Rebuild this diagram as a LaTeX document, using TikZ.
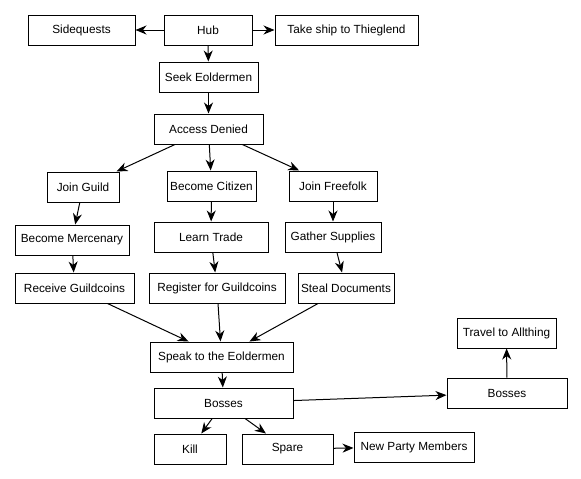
\documentclass[tikz,border=0pt]{standalone}
\usepackage{fontspec}
\setmainfont{Liberation Sans}
\usetikzlibrary{arrows.meta}
\tikzset{
  questbox/.style={draw, line width=1pt, minimum height=30pt, inner sep=2pt, font=\fontsize{11.8}{14}\selectfont},
  questarrow/.style={line width=1pt, -{Stealth[length=11pt,width=9pt,inset=3.5pt]}}
}
\newcommand{\questnode}[5]{\node[questbox, minimum width=#4pt] (#1) at (#2,#3) {#5};}
\newcommand{\questarrow}[2]{\draw[questarrow] (#1) -- (#2);}

\begin{document}
\begin{tikzpicture}[x=1pt,y=-1pt]
\useasboundingbox (0,0) rectangle (581,479);
\questnode{side}{81.5}{30}{107}{Sidequests}
\questnode{hub}{208}{30}{88}{Hub}
\questnode{ship}{346.5}{30}{143}{Take ship to Thieglend}
\questnode{seek}{208.5}{77}{99}{Seek Eoldermen}
\questnode{denied}{208.5}{129}{109}{Access Denied}
\questnode{guild}{83}{187}{72}{Join Guild}
\questnode{citizen}{211.5}{186}{89}{Become Citizen}
\questnode{freefolk}{333}{186}{88}{Join Freefolk}
\questnode{merc}{72}{240}{114}{Become Mercenary}
\questnode{trade}{211}{237}{114}{Learn Trade}
\questnode{supplies}{333}{237}{96}{Gather Supplies}
\questnode{receive}{74.5}{288}{119}{Receive Guildcoins}
\questnode{register}{217}{288}{136}{Register for Guildcoins}
\questnode{steal}{346}{288}{96}{Steal Documents}
\questnode{speak}{221.5}{357}{143}{Speak to the Eoldermen}
\questnode{bosses}{223.5}{403}{139}{Bosses}
\questnode{kill}{190}{449}{72}{Kill}
\questnode{spare}{287.5}{449}{91}{Spare}
\questnode{party}{414}{447}{120}{New Party Members}
\questnode{allthing}{506.5}{333}{99}{Travel to Allthing}
\questnode{bossestwo}{507}{393}{120}{Bosses}
\questarrow{hub}{side}\questarrow{hub}{ship}\questarrow{hub}{seek}\questarrow{seek}{denied}
\questarrow{denied}{guild}\questarrow{denied}{citizen}\questarrow{denied}{freefolk}
\questarrow{guild}{merc}\questarrow{merc}{receive}
\questarrow{citizen}{trade}\questarrow{trade}{register}
\questarrow{freefolk}{supplies}\questarrow{supplies}{steal}
\questarrow{receive}{speak}\questarrow{register}{speak}\questarrow{steal}{speak}
\questarrow{speak}{bosses}\questarrow{bosses}{kill}\questarrow{bosses}{spare}\questarrow{spare}{party}
\questarrow{bosses}{bossestwo}\questarrow{bossestwo}{allthing}
\end{tikzpicture}
\end{document}
